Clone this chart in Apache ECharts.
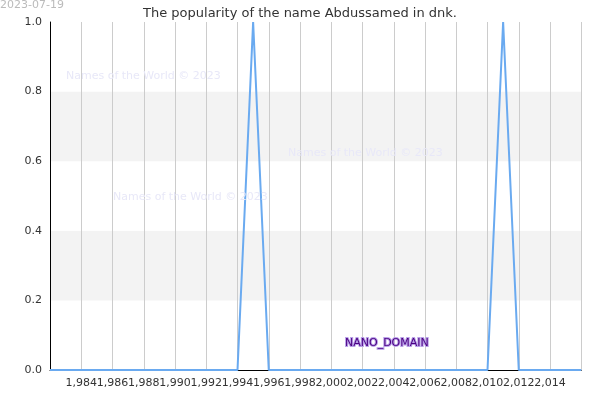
<!DOCTYPE html><html><head><meta charset="utf-8"><script src="https://cdn.jsdelivr.net/npm/echarts@6/dist/echarts.min.js"></script></head><body style="margin:0"><div id="c" style="width:600px;height:400px"></div><script>
const years=[];for(let y=1982;y<=2016;y++)years.push(y);
const peakYears=[1995,2011];
const values=years.map(y=>peakYears.includes(y)?1:0);
const c=echarts.init(document.getElementById('c'));
const wm=(l,t)=>({type:'text',left:l,top:t,z:100,style:{text:'Names of the World © 2023',fill:'#e8e8f8',fontSize:11,fontFamily:'DejaVu Sans'}});
c.setOption({backgroundColor:'#fff',animation:false,
title:{text:'The popularity of the name Abdussamed in dnk.',left:'center',top:2,textStyle:{fontFamily:'DejaVu Sans',fontSize:13,fontWeight:'normal',color:'#333'}},
graphic:{elements:[{type:'text',left:0,top:0,z:100,style:{text:'2023-07-19',fill:'#bbb',fontSize:11,fontFamily:'DejaVu Sans'}},
wm(66,71),wm(288,148),wm(113,192),
{type:'text',left:344,top:337,z:100,style:{text:'NANO_DOMAIN',fill:'#4b0082',stroke:'#b9a0e8',lineWidth:2,fontSize:11,fontFamily:'DejaVu Sans'}}]},
grid:{left:50,right:15,top:22,bottom:30},
xAxis:{type:'value',min:1982,max:2016,interval:2,axisLine:{lineStyle:{color:'#000'}},axisTick:{show:false},
axisLabel:{color:'#333',fontFamily:'DejaVu Sans',fontSize:11},
splitLine:{show:true,lineStyle:{color:'#ccc'}}},
yAxis:{type:'value',min:0,max:1,interval:0.2,axisLine:{show:true,lineStyle:{color:'#000'}},axisTick:{show:false},
axisLabel:{color:'#333',fontFamily:'DejaVu Sans',fontSize:11,formatter:v=>v.toFixed(1)},
splitLine:{show:false},splitArea:{show:true,areaStyle:{color:['#fff','#f3f3f3']}}},
series:[{type:'line',data:years.map((y,i)=>[y,values[i]]),showSymbol:false,lineStyle:{color:'#6aaaf0',width:2}}]});
</script></body></html>
